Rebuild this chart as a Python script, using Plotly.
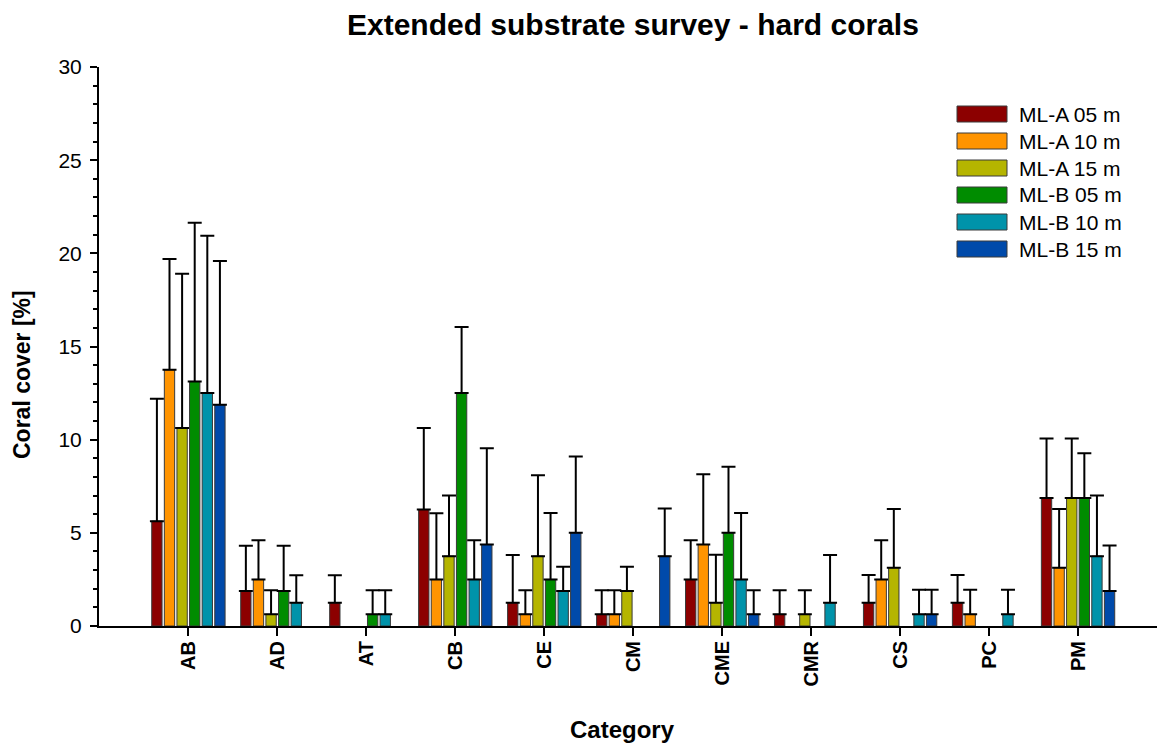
import plotly.graph_objects as go

categories = ["AB", "AD", "AT", "CB", "CE", "CM", "CME", "CMR", "CS", "PC", "PM"]
series_names = ["ML-A 05 m", "ML-A 10 m", "ML-A 15 m", "ML-B 05 m", "ML-B 10 m", "ML-B 15 m"]
colors = ["#8C0000", "#FF9400", "#B5B500", "#008C00", "#0093AA", "#004AAA"]

mla05 = [5.625, 1.875, 1.25, 6.25, 1.25, 0.625, 2.5, 0.625, 1.25, 1.25, 6.875]
mla10 = [13.75, 2.5, 0, 2.5, 0.625, 0.625, 4.375, 0, 2.5, 0.625, 3.125]
mla15 = [10.625, 0.625, 0, 3.75, 3.75, 1.875, 1.25, 0.625, 3.125, 0, 6.875]
mlb05 = [13.125, 1.875, 0.625, 12.5, 2.5, 0, 5.0, 0, 0, 0, 6.875]
mlb10 = [12.5, 1.25, 0.625, 2.5, 1.875, 0, 2.5, 1.25, 0.625, 0.625, 3.75]
mlb15 = [11.875, 0, 0, 4.375, 5.0, 3.75, 0.625, 0, 0.625, 0, 1.875]

err_mla05 = [6.57, 2.43, 1.47, 4.38, 2.56, 1.3, 2.1, 1.3, 1.49, 1.49, 3.19]
err_mla10 = [5.95, 2.1, 0, 3.55, 1.3, 1.3, 3.77, 0, 2.1, 1.32, 3.16]
err_mla15 = [8.28, 1.3, 0, 3.26, 4.34, 1.3, 2.58, 1.3, 3.16, 0, 3.19]
err_mlb05 = [8.52, 2.43, 1.3, 3.55, 3.57, 0, 3.55, 0, 0, 0, 2.4]
err_mlb10 = [8.45, 1.47, 1.3, 2.1, 1.3, 0, 3.57, 2.56, 1.32, 1.32, 3.26]
err_mlb15 = [7.72, 0, 0, 5.17, 4.1, 2.55, 1.3, 0, 1.32, 0, 2.44]

values = [mla05, mla10, mla15, mlb05, mlb10, mlb15]
errors = [err_mla05, err_mla10, err_mla15, err_mlb05, err_mlb10, err_mlb15]

FONT = "Liberation Sans, Arial, sans-serif"
OFF = 8  # page body margin
W, H = 1165 - OFF, 745 - OFF
ML = 99 - OFF
MT = 67 - OFF
MR = W - (1163 - OFF)
MB = H - (626 - OFF)
PW, PH = W - ML - MR, H - MT - MB


def px2paper_x(px):
    return (px - OFF - ML) / PW


def px2paper_y(py):
    return (H - MB - (py - OFF)) / PH


fig = go.Figure()
for name, col, v, e in zip(series_names, colors, values, errors):
    yv = [None if a == 0 else a for a in v]
    ev = [None if a == 0 else b for a, b in zip(v, e)]
    fig.add_trace(go.Bar(
        x=categories, y=yv, name=name,
        marker=dict(color=col, line=dict(color="#3a3a3a", width=1)),
        error_y=dict(type="data", symmetric=False, array=ev,
                     arrayminus=[0] * len(ev), color="black",
                     thickness=2, width=7),
        showlegend=False,
    ))

shapes = []
annotations = []
for i, (name, col) in enumerate(zip(series_names, colors)):
    cy = 114 + 27 * i
    shapes.append(dict(type="rect", xref="paper", yref="paper",
                       x0=px2paper_x(957), x1=px2paper_x(1007),
                       y0=px2paper_y(cy + 8), y1=px2paper_y(cy - 8),
                       fillcolor=col, line=dict(color="#3a3a3a", width=1)))
    annotations.append(dict(text=name, xref="paper", yref="paper",
                            x=px2paper_x(1017), y=px2paper_y(cy),
                            xanchor="left", yanchor="middle", showarrow=False,
                            font=dict(family=FONT, size=21, color="black")))

annotations.append(dict(text="<b>Category</b>", xref="paper", yref="paper",
                        x=px2paper_x(622), y=px2paper_y(729), xanchor="center", yanchor="middle",
                        showarrow=False, font=dict(family=FONT, size=24, color="black")))
annotations.append(dict(text="<b>Coral cover [%]</b>", xref="paper", yref="paper",
                        x=px2paper_x(22), y=px2paper_y(375), xanchor="center", yanchor="middle",
                        textangle=-90, showarrow=False,
                        font=dict(family=FONT, size=23, color="black")))
annotations.append(dict(text="<b>Extended substrate survey - hard corals</b>",
                        xref="paper", yref="paper",
                        x=px2paper_x(633), y=px2paper_y(25), xanchor="center", yanchor="middle",
                        showarrow=False, font=dict(family=FONT, size=30, color="black")))

fig.update_layout(
    width=W, height=H,
    margin=dict(l=ML, r=MR, t=MT, b=MB, autoexpand=False),
    paper_bgcolor="white", plot_bgcolor="white",
    barmode="group", bargap=0.15, bargroupgap=0.18,
    shapes=shapes, annotations=annotations,
    showlegend=False,
)
fig.update_xaxes(
    type="category", range=[-1.005, 10.955],
    showline=True, linecolor="black", linewidth=2,
    ticks="outside", ticklen=8, tickwidth=2, tickcolor="black",
    tickangle=-90, ticklabelstandoff=-3,
    tickfont=dict(family=FONT, size=20, color="black", weight="bold"),
    showgrid=False, zeroline=False, automargin=False,
)
fig.update_yaxes(
    range=[0, 30], tickvals=[0, 5, 10, 15, 20, 25, 30],
    showline=True, linecolor="black", linewidth=2,
    ticks="outside", ticklen=7, tickwidth=2, tickcolor="black",
    minor=dict(dtick=1, ticks="outside", ticklen=4, tickwidth=1.5, tickcolor="black"),
    ticklabelstandoff=4,
    tickfont=dict(family=FONT, size=21, color="black"),
    showgrid=False, zeroline=False, automargin=False,
)

fig.write_html("out.html")
